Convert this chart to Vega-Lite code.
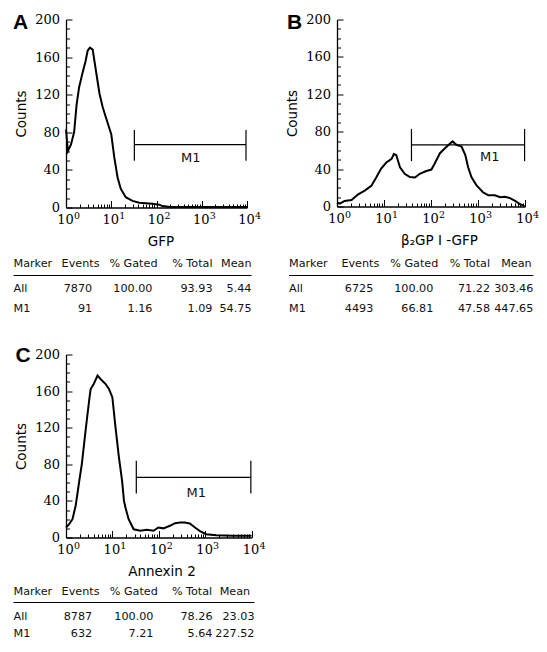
{
  "$schema": "https://vega.github.io/schema/vega-lite/v6.json",
  "padding": {"left": 12, "top": 11.5, "right": 0, "bottom": 0},
  "background": "white",
  "datasets": {
    "hA": [{"x":1,"y":83},{"x":1.1,"y":60},{"x":1.29,"y":67},{"x":1.51,"y":80},{"x":1.72,"y":110},{"x":1.95,"y":128},{"x":2.34,"y":144},{"x":2.69,"y":155},{"x":3.02,"y":167},{"x":3.39,"y":170},{"x":3.89,"y":168},{"x":4.57,"y":146},{"x":5.5,"y":121},{"x":6.46,"y":107},{"x":7.59,"y":96},{"x":10,"y":78},{"x":11.7,"y":53},{"x":13.8,"y":32},{"x":16.2,"y":20},{"x":20.9,"y":11},{"x":29.5,"y":7},{"x":41.7,"y":5},{"x":81.3,"y":4},{"x":115,"y":3},{"x":135,"y":1.5},{"x":200,"y":0.5},{"x":10000,"y":0.5}],
    "hB": [{"x":1,"y":4.3},{"x":1.15,"y":3},{"x":1.45,"y":6},{"x":2.04,"y":7},{"x":2.82,"y":13},{"x":3.89,"y":17},{"x":5.37,"y":22},{"x":6.92,"y":31.5},{"x":8.71,"y":40.6},{"x":11.2,"y":47},{"x":14.5,"y":51},{"x":16.2,"y":56},{"x":18.2,"y":55},{"x":21.9,"y":42},{"x":27.5,"y":35},{"x":35.5,"y":31.5},{"x":45.7,"y":31},{"x":57.5,"y":35},{"x":79.4,"y":38},{"x":102,"y":39.5},{"x":120,"y":46},{"x":155,"y":57},{"x":195,"y":62},{"x":251,"y":67},{"x":288,"y":69.6},{"x":347,"y":66},{"x":447,"y":64},{"x":537,"y":55},{"x":617,"y":42},{"x":724,"y":31.5},{"x":933,"y":22.5},{"x":1288,"y":15},{"x":1660,"y":12},{"x":2291,"y":12},{"x":2951,"y":10},{"x":3715,"y":10.5},{"x":4786,"y":9},{"x":6166,"y":6},{"x":7762,"y":2.5},{"x":9772,"y":0.7}],
    "hC": [{"x":1,"y":11},{"x":1.17,"y":14.6},{"x":1.38,"y":20},{"x":1.62,"y":35},{"x":1.91,"y":60},{"x":2.19,"y":80},{"x":2.69,"y":120},{"x":3.16,"y":150},{"x":3.39,"y":162},{"x":3.98,"y":168},{"x":4.79,"y":177},{"x":5.62,"y":173},{"x":7.08,"y":168},{"x":8.51,"y":162},{"x":10,"y":153},{"x":11.7,"y":120},{"x":13.8,"y":88},{"x":16.2,"y":62},{"x":17.8,"y":40},{"x":19.1,"y":33},{"x":22.4,"y":20},{"x":28.8,"y":9},{"x":39.8,"y":7.3},{"x":55,"y":8.4},{"x":77.6,"y":7.3},{"x":97.7,"y":11},{"x":126,"y":10},{"x":174,"y":12.8},{"x":224,"y":15.7},{"x":288,"y":16.4},{"x":363,"y":16.4},{"x":468,"y":15.3},{"x":603,"y":11},{"x":759,"y":7.3},{"x":1047,"y":3.6},{"x":1738,"y":2.5},{"x":3890,"y":1.8},{"x":10000,"y":1.8}],
    "mA": [{"lo":32.4,"hi":9500,"y":66.8,"ylo":49.7,"yhi":82.4,"tx":575,"ty":53,"label":"M1"}],
    "mB": [{"lo":38.4,"hi":9800,"y":65.9,"ylo":48.5,"yhi":83,"tx":1780,"ty":53,"label":"M1"}],
    "mC": [{"lo":32.8,"hi":9680,"y":65.7,"ylo":48.2,"yhi":84,"tx":646,"ty":49,"label":"M1"}],
    "tA": [{"r":0,"c":0,"t":"Marker"},{"r":0,"c":1,"t":"Events"},{"r":0,"c":2,"t":"% Gated"},{"r":0,"c":3,"t":"% Total"},{"r":0,"c":4,"t":"Mean"},{"r":1,"c":0,"t":"All"},{"r":1,"c":1,"t":"7870"},{"r":1,"c":2,"t":"100.00"},{"r":1,"c":3,"t":"93.93"},{"r":1,"c":4,"t":"5.44"},{"r":2,"c":0,"t":"M1"},{"r":2,"c":1,"t":"91"},{"r":2,"c":2,"t":"1.16"},{"r":2,"c":3,"t":"1.09"},{"r":2,"c":4,"t":"54.75"}],
    "tB": [{"r":0,"c":0,"t":"Marker"},{"r":0,"c":1,"t":"Events"},{"r":0,"c":2,"t":"% Gated"},{"r":0,"c":3,"t":"% Total"},{"r":0,"c":4,"t":"Mean"},{"r":1,"c":0,"t":"All"},{"r":1,"c":1,"t":"6725"},{"r":1,"c":2,"t":"100.00"},{"r":1,"c":3,"t":"71.22"},{"r":1,"c":4,"t":"303.46"},{"r":2,"c":0,"t":"M1"},{"r":2,"c":1,"t":"4493"},{"r":2,"c":2,"t":"66.81"},{"r":2,"c":3,"t":"47.58"},{"r":2,"c":4,"t":"447.65"}],
    "tC": [{"r":0,"c":0,"t":"Marker"},{"r":0,"c":1,"t":"Events"},{"r":0,"c":2,"t":"% Gated"},{"r":0,"c":3,"t":"% Total"},{"r":0,"c":4,"t":"Mean"},{"r":1,"c":0,"t":"All"},{"r":1,"c":1,"t":"8787"},{"r":1,"c":2,"t":"100.00"},{"r":1,"c":3,"t":"78.26"},{"r":1,"c":4,"t":"23.03"},{"r":2,"c":0,"t":"M1"},{"r":2,"c":1,"t":"632"},{"r":2,"c":2,"t":"7.21"},{"r":2,"c":3,"t":"5.64"},{"r":2,"c":4,"t":"227.52"}],
    "rule": [{"a":0,"b":4,"r":0.5}]
  },
  "concat": [
    {
      "width": 181, "height": 188,
      "title": {"text": "A", "anchor": "start", "frame": "group", "orient": "top", "offset": 0, "dx": -53, "dy": 30.5, "baseline": "middle", "font": "Liberation Sans", "fontSize": 21, "fontWeight": "bold", "color": "#000"},
      "layer": [
        {
          "layer": [
            {"data": {"name": "hA"}, "mark": {"type": "line", "color": "#000", "strokeWidth": 2},
             "encoding": {
               "x": {"field": "x", "type": "quantitative", "scale": {"type": "log", "domain": [1, 10000]},
                     "axis": {"orient": "bottom", "values": [1,10,100,1000,10000], "tickSize": -7, "labelExpr": "'10'", "labelOffset": -1, "labelFlush": false, "labelOverlap": false, "labelPadding": 13, "title": "GFP", "titlePadding": 8, "titleX": 94.5}},
               "y": {"field": "y", "type": "quantitative", "scale": {"domain": [0, 200], "nice": false},
                     "axis": {"orient": "left", "values": [0,40,80,120,160,200], "tickSize": -6, "labelPadding": 12.5, "title": "Counts", "titlePadding": 6}}
             }},
            {"data": {"name": "mA"}, "mark": {"type": "rule", "color": "#000", "strokeWidth": 1.2},
             "encoding": {
               "x": {"field": "lo", "type": "quantitative", "scale": {"type": "log", "domain": [1, 10000]},
                     "axis": {"orient": "bottom", "values": [2,3,4,5,6,7,8,9,20,30,40,50,60,70,80,90,200,300,400,500,600,700,800,900,2000,3000,4000,5000,6000,7000,8000,9000], "tickSize": -3.5, "labels": false, "domain": false, "title": null}},
               "x2": {"field": "hi"},
               "y": {"field": "y", "type": "quantitative", "scale": {"domain": [0, 200], "nice": false},
                     "axis": {"orient": "left", "values": [10,20,30,50,60,70,90,100,110,130,140,150,170,180,190], "tickSize": -3.5, "labels": false, "domain": false, "title": null}}
             }},
            {"data": {"name": "mA"}, "transform": [{"fold": ["lo", "hi"], "as": ["end", "xe"]}], "mark": {"type": "rule", "color": "#000", "strokeWidth": 1.2},
             "encoding": {
               "x": {"field": "xe", "type": "quantitative", "scale": {"type": "log", "domain": [1, 10000]}, "axis": null},
               "y": {"field": "ylo", "type": "quantitative", "scale": {"domain": [0, 200], "nice": false}, "axis": null},
               "y2": {"field": "yhi"}
             }},
            {"data": {"name": "mA"}, "mark": {"type": "text", "font": "DejaVu Sans", "fontSize": 13, "color": "#111", "baseline": "middle"},
             "encoding": {
               "x": {"field": "tx", "type": "quantitative", "scale": {"type": "log", "domain": [1, 10000]},
                     "axis": {"orient": "bottom", "values": [1,10,100,1000,10000], "ticks": false, "domain": false, "labelExpr": "format(round(log(datum.value)/LN10), 'd')", "labelFontSize": 9.5, "labelOffset": 10.5, "labelPadding": 2.5, "labelFlush": false, "labelOverlap": false, "title": null}},
               "y": {"field": "ty", "type": "quantitative", "scale": {"domain": [0, 200], "nice": false}, "axis": null},
               "text": {"field": "label"}
             }}
          ],
          "resolve": {"axis": {"x": "independent", "y": "independent"}}
        },
        {
          "layer": [
            {"data": {"name": "tA"}, "transform": [{"filter": "datum.c == 0"}], "mark": {"type": "text", "align": "left", "baseline": "middle", "font": "DejaVu Sans", "fontSize": 11.2, "color": "#111"},
             "encoding": {
               "x": {"field": "c", "type": "quantitative", "scale": {"domain": [0,1,2,3,4], "range": [-52.5, 26.2, 86.5, 146.5, 185.5], "nice": false, "zero": false}, "axis": null},
               "y": {"field": "r", "type": "quantitative", "scale": {"domain": [0,0.5,1,2], "range": [244.3, 256, 269.3, 289], "nice": false, "zero": false}, "axis": null},
               "text": {"field": "t"}
             }},
            {"data": {"name": "tA"}, "transform": [{"filter": "datum.c > 0 && datum.r > 0"}], "mark": {"type": "text", "align": "right", "baseline": "middle", "font": "DejaVu Sans", "fontSize": 11.2, "color": "#111"},
             "encoding": {
               "x": {"field": "c", "type": "quantitative", "scale": {"domain": [0,1,2,3,4], "range": [-52.5, 26.2, 86.5, 146.5, 185.5], "nice": false, "zero": false}, "axis": null},
               "y": {"field": "r", "type": "quantitative", "scale": {"domain": [0,0.5,1,2], "range": [244.3, 256, 269.3, 289], "nice": false, "zero": false}, "axis": null},
               "text": {"field": "t"}
             }},
            {"data": {"name": "rule"}, "mark": {"type": "rule", "color": "#000", "strokeWidth": 1.2},
             "encoding": {
               "x": {"field": "a", "type": "quantitative", "scale": {"domain": [0,1,2,3,4], "range": [-52.5, 26.2, 86.5, 146.5, 185.5], "nice": false, "zero": false}, "axis": null},
               "x2": {"field": "b"},
               "y": {"field": "r", "type": "quantitative", "scale": {"domain": [0,0.5,1,2], "range": [244.3, 256, 269.3, 289], "nice": false, "zero": false}, "axis": null}
             }}
          ]
        },
        {"data": {"name": "tA"}, "transform": [{"filter": "datum.c > 0 && datum.r == 0"}], "mark": {"type": "text", "align": "right", "baseline": "middle", "font": "DejaVu Sans", "fontSize": 11.2, "color": "#111"},
         "encoding": {
           "x": {"field": "c", "type": "quantitative", "scale": {"domain": [0,1,2,3,4], "range": [-52.5, 33.5, 91.5, 146.5, 185.5], "nice": false, "zero": false}, "axis": null},
           "y": {"field": "r", "type": "quantitative", "scale": {"domain": [0,0.5,1,2], "range": [244.3, 256, 269.3, 289], "nice": false, "zero": false}, "axis": null},
           "text": {"field": "t"}
         }}
      ],
      "resolve": {"scale": {"x": "independent", "y": "independent"}}
    },
    {
      "width": 188, "height": 187,
      "title": {"text": "B", "anchor": "start", "frame": "group", "orient": "top", "offset": 0, "dx": -50, "dy": 30.5, "baseline": "middle", "font": "Liberation Sans", "fontSize": 21, "fontWeight": "bold", "color": "#000"},
      "layer": [
        {
          "layer": [
            {"data": {"name": "hB"}, "mark": {"type": "line", "color": "#000", "strokeWidth": 2},
             "encoding": {
               "x": {"field": "x", "type": "quantitative", "scale": {"type": "log", "domain": [1, 10000]},
                     "axis": {"orient": "bottom", "values": [1,10,100,1000,10000], "tickSize": -7, "labelExpr": "'10'", "labelOffset": -1, "labelFlush": false, "labelOverlap": false, "labelPadding": 13, "title": "β₂GP Ⅰ -GFP", "titlePadding": 8, "titleX": 102}},
               "y": {"field": "y", "type": "quantitative", "scale": {"domain": [0, 200], "nice": false},
                     "axis": {"orient": "left", "values": [0,40,80,120,160,200], "tickSize": -6, "labelPadding": 12.5, "title": "Counts", "titlePadding": 6}}
             }},
            {"data": {"name": "mB"}, "mark": {"type": "rule", "color": "#000", "strokeWidth": 1.2},
             "encoding": {
               "x": {"field": "lo", "type": "quantitative", "scale": {"type": "log", "domain": [1, 10000]},
                     "axis": {"orient": "bottom", "values": [2,3,4,5,6,7,8,9,20,30,40,50,60,70,80,90,200,300,400,500,600,700,800,900,2000,3000,4000,5000,6000,7000,8000,9000], "tickSize": -3.5, "labels": false, "domain": false, "title": null}},
               "x2": {"field": "hi"},
               "y": {"field": "y", "type": "quantitative", "scale": {"domain": [0, 200], "nice": false},
                     "axis": {"orient": "left", "values": [10,20,30,50,60,70,90,100,110,130,140,150,170,180,190], "tickSize": -3.5, "labels": false, "domain": false, "title": null}}
             }},
            {"data": {"name": "mB"}, "transform": [{"fold": ["lo", "hi"], "as": ["end", "xe"]}], "mark": {"type": "rule", "color": "#000", "strokeWidth": 1.2},
             "encoding": {
               "x": {"field": "xe", "type": "quantitative", "scale": {"type": "log", "domain": [1, 10000]}, "axis": null},
               "y": {"field": "ylo", "type": "quantitative", "scale": {"domain": [0, 200], "nice": false}, "axis": null},
               "y2": {"field": "yhi"}
             }},
            {"data": {"name": "mB"}, "mark": {"type": "text", "font": "DejaVu Sans", "fontSize": 13, "color": "#111", "baseline": "middle"},
             "encoding": {
               "x": {"field": "tx", "type": "quantitative", "scale": {"type": "log", "domain": [1, 10000]},
                     "axis": {"orient": "bottom", "values": [1,10,100,1000,10000], "ticks": false, "domain": false, "labelExpr": "format(round(log(datum.value)/LN10), 'd')", "labelFontSize": 9.5, "labelOffset": 10.5, "labelPadding": 2.5, "labelFlush": false, "labelOverlap": false, "title": null}},
               "y": {"field": "ty", "type": "quantitative", "scale": {"domain": [0, 200], "nice": false}, "axis": null},
               "text": {"field": "label"}
             }}
          ],
          "resolve": {"axis": {"x": "independent", "y": "independent"}}
        },
        {
          "layer": [
            {"data": {"name": "tB"}, "transform": [{"filter": "datum.c == 0"}], "mark": {"type": "text", "align": "left", "baseline": "middle", "font": "DejaVu Sans", "fontSize": 11.2, "color": "#111"},
             "encoding": {
               "x": {"field": "c", "type": "quantitative", "scale": {"domain": [0,1,2,3,4], "range": [-48, 36.3, 96.3, 153, 196.3], "nice": false, "zero": false}, "axis": null},
               "y": {"field": "r", "type": "quantitative", "scale": {"domain": [0,0.5,1,2], "range": [244.3, 256, 269.3, 289], "nice": false, "zero": false}, "axis": null},
               "text": {"field": "t"}
             }},
            {"data": {"name": "tB"}, "transform": [{"filter": "datum.c > 0 && datum.r > 0"}], "mark": {"type": "text", "align": "right", "baseline": "middle", "font": "DejaVu Sans", "fontSize": 11.2, "color": "#111"},
             "encoding": {
               "x": {"field": "c", "type": "quantitative", "scale": {"domain": [0,1,2,3,4], "range": [-48, 36.3, 96.3, 153, 196.3], "nice": false, "zero": false}, "axis": null},
               "y": {"field": "r", "type": "quantitative", "scale": {"domain": [0,0.5,1,2], "range": [244.3, 256, 269.3, 289], "nice": false, "zero": false}, "axis": null},
               "text": {"field": "t"}
             }},
            {"data": {"name": "rule"}, "mark": {"type": "rule", "color": "#000", "strokeWidth": 1.2},
             "encoding": {
               "x": {"field": "a", "type": "quantitative", "scale": {"domain": [0,1,2,3,4], "range": [-48, 36.3, 96.3, 153, 196.3], "nice": false, "zero": false}, "axis": null},
               "x2": {"field": "b"},
               "y": {"field": "r", "type": "quantitative", "scale": {"domain": [0,0.5,1,2], "range": [244.3, 256, 269.3, 289], "nice": false, "zero": false}, "axis": null}
             }}
          ]
        },
        {"data": {"name": "tB"}, "transform": [{"filter": "datum.c > 0 && datum.r == 0"}], "mark": {"type": "text", "align": "right", "baseline": "middle", "font": "DejaVu Sans", "fontSize": 11.2, "color": "#111"},
         "encoding": {
           "x": {"field": "c", "type": "quantitative", "scale": {"domain": [0,1,2,3,4], "range": [-48, 42.3, 101.3, 153, 194.7], "nice": false, "zero": false}, "axis": null},
           "y": {"field": "r", "type": "quantitative", "scale": {"domain": [0,0.5,1,2], "range": [244.3, 256, 269.3, 289], "nice": false, "zero": false}, "axis": null},
           "text": {"field": "t"}
         }}
      ],
      "resolve": {"scale": {"x": "independent", "y": "independent"}}
    },
    {
      "width": 185.5, "height": 183,
      "title": {"text": "C", "anchor": "start", "frame": "group", "orient": "top", "offset": 0, "dx": -50.5, "dy": 28.5, "baseline": "middle", "font": "Liberation Sans", "fontSize": 21, "fontWeight": "bold", "color": "#000"},
      "layer": [
        {
          "layer": [
            {"data": {"name": "hC"}, "mark": {"type": "line", "color": "#000", "strokeWidth": 2},
             "encoding": {
               "x": {"field": "x", "type": "quantitative", "scale": {"type": "log", "domain": [1, 10000]},
                     "axis": {"orient": "bottom", "values": [1,10,100,1000,10000], "tickSize": -7, "labelExpr": "'10'", "labelOffset": -1, "labelFlush": false, "labelOverlap": false, "labelPadding": 13, "title": "Annexin 2", "titlePadding": 8, "titleX": 95.5}},
               "y": {"field": "y", "type": "quantitative", "scale": {"domain": [0, 200], "nice": false},
                     "axis": {"orient": "left", "values": [0,40,80,120,160,200], "tickSize": -6, "labelPadding": 12.5, "title": "Counts", "titlePadding": 6}}
             }},
            {"data": {"name": "mC"}, "mark": {"type": "rule", "color": "#000", "strokeWidth": 1.2},
             "encoding": {
               "x": {"field": "lo", "type": "quantitative", "scale": {"type": "log", "domain": [1, 10000]},
                     "axis": {"orient": "bottom", "values": [2,3,4,5,6,7,8,9,20,30,40,50,60,70,80,90,200,300,400,500,600,700,800,900,2000,3000,4000,5000,6000,7000,8000,9000], "tickSize": -3.5, "labels": false, "domain": false, "title": null}},
               "x2": {"field": "hi"},
               "y": {"field": "y", "type": "quantitative", "scale": {"domain": [0, 200], "nice": false},
                     "axis": {"orient": "left", "values": [10,20,30,50,60,70,90,100,110,130,140,150,170,180,190], "tickSize": -3.5, "labels": false, "domain": false, "title": null}}
             }},
            {"data": {"name": "mC"}, "transform": [{"fold": ["lo", "hi"], "as": ["end", "xe"]}], "mark": {"type": "rule", "color": "#000", "strokeWidth": 1.2},
             "encoding": {
               "x": {"field": "xe", "type": "quantitative", "scale": {"type": "log", "domain": [1, 10000]}, "axis": null},
               "y": {"field": "ylo", "type": "quantitative", "scale": {"domain": [0, 200], "nice": false}, "axis": null},
               "y2": {"field": "yhi"}
             }},
            {"data": {"name": "mC"}, "mark": {"type": "text", "font": "DejaVu Sans", "fontSize": 13, "color": "#111", "baseline": "middle"},
             "encoding": {
               "x": {"field": "tx", "type": "quantitative", "scale": {"type": "log", "domain": [1, 10000]},
                     "axis": {"orient": "bottom", "values": [1,10,100,1000,10000], "ticks": false, "domain": false, "labelExpr": "format(round(log(datum.value)/LN10), 'd')", "labelFontSize": 9.5, "labelOffset": 10.5, "labelPadding": 2.5, "labelFlush": false, "labelOverlap": false, "title": null}},
               "y": {"field": "ty", "type": "quantitative", "scale": {"domain": [0, 200], "nice": false}, "axis": null},
               "text": {"field": "label"}
             }}
          ],
          "resolve": {"axis": {"x": "independent", "y": "independent"}}
        },
        {
          "layer": [
            {"data": {"name": "tC"}, "transform": [{"filter": "datum.c == 0"}], "mark": {"type": "text", "align": "left", "baseline": "middle", "font": "DejaVu Sans", "fontSize": 11.2, "color": "#111"},
             "encoding": {
               "x": {"field": "c", "type": "quantitative", "scale": {"domain": [0,1,2,3,4], "range": [-52.5, 26.2, 87.5, 146.5, 188.5], "nice": false, "zero": false}, "axis": null},
               "y": {"field": "r", "type": "quantitative", "scale": {"domain": [0,0.5,1,2], "range": [237, 248, 262, 279], "nice": false, "zero": false}, "axis": null},
               "text": {"field": "t"}
             }},
            {"data": {"name": "tC"}, "transform": [{"filter": "datum.c > 0 && datum.r > 0"}], "mark": {"type": "text", "align": "right", "baseline": "middle", "font": "DejaVu Sans", "fontSize": 11.2, "color": "#111"},
             "encoding": {
               "x": {"field": "c", "type": "quantitative", "scale": {"domain": [0,1,2,3,4], "range": [-52.5, 26.2, 87.5, 146.5, 188.5], "nice": false, "zero": false}, "axis": null},
               "y": {"field": "r", "type": "quantitative", "scale": {"domain": [0,0.5,1,2], "range": [237, 248, 262, 279], "nice": false, "zero": false}, "axis": null},
               "text": {"field": "t"}
             }},
            {"data": {"name": "rule"}, "mark": {"type": "rule", "color": "#000", "strokeWidth": 1.2},
             "encoding": {
               "x": {"field": "a", "type": "quantitative", "scale": {"domain": [0,1,2,3,4], "range": [-52.5, 26.2, 87.5, 146.5, 188.5], "nice": false, "zero": false}, "axis": null},
               "x2": {"field": "b"},
               "y": {"field": "r", "type": "quantitative", "scale": {"domain": [0,0.5,1,2], "range": [237, 248, 262, 279], "nice": false, "zero": false}, "axis": null}
             }}
          ]
        },
        {"data": {"name": "tC"}, "transform": [{"filter": "datum.c > 0 && datum.r == 0"}], "mark": {"type": "text", "align": "right", "baseline": "middle", "font": "DejaVu Sans", "fontSize": 11.2, "color": "#111"},
         "encoding": {
           "x": {"field": "c", "type": "quantitative", "scale": {"domain": [0,1,2,3,4], "range": [-52.5, 33.5, 91.8, 146.2, 184.2], "nice": false, "zero": false}, "axis": null},
           "y": {"field": "r", "type": "quantitative", "scale": {"domain": [0,0.5,1,2], "range": [237, 248, 262, 279], "nice": false, "zero": false}, "axis": null},
           "text": {"field": "t"}
         }}
      ],
      "resolve": {"scale": {"x": "independent", "y": "independent"}}
    }
  ],
  "columns": 2,
  "spacing": {"row": 147, "column": 85},
  "bounds": "flush",
  "align": "each",
  "config": {
    "view": {"stroke": null},
    "axis": {"grid": false, "domainColor": "#000", "tickColor": "#000", "labelColor": "#000", "titleColor": "#000", "domainWidth": 1.3, "tickWidth": 1, "labelFont": "DejaVu Serif", "labelFontSize": 13, "titleFont": "DejaVu Sans", "titleFontSize": 13.5, "titleFontWeight": "normal"}
  }
}
